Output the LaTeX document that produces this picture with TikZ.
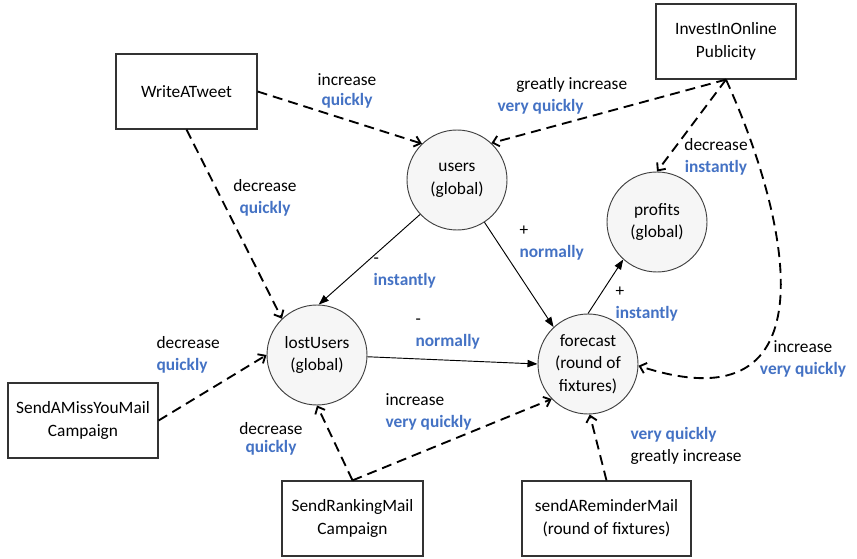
\documentclass[tikz,border=0pt]{standalone}
\usepackage{fontspec}
\setmainfont{Carlito}
\usepackage{tikz}
\usetikzlibrary{shapes,arrows.meta,positioning}
\definecolor{qblue}{RGB}{68,114,196}
\definecolor{vargray}{RGB}{246,246,246}
\newcommand{\Fast}[1]{\textcolor{qblue}{\bfseries #1}}

\begin{document}
\begin{tikzpicture}[x=0.75pt,y=-0.75pt,% pixel grid of the drawing, y going down
			every node/.style={
				align=center,	% so that "\\" breaks the line
				font=\fontsize{13}{17}\selectfont
			},
			box/.style={rectangle,draw=black!80,line width=0.9pt,minimum width=105.75pt,minimum height=56.25pt},
			var/.style={circle,draw=black!75,line width=0.7pt,fill=vargray,minimum size=75pt,inner sep=0pt},
			lbl/.style={inner sep=1pt},
			infl/.style={draw,line width=1.4pt,dash pattern=on 7.5pt off 4.5pt,-{Straight Barb[length=4.5pt,width=8pt]}},
			rel/.style={draw,line width=0.7pt,-{Triangle[length=7.5pt,width=5.5pt]}}
		]
		\useasboundingbox (0,0) rectangle (857,559);
		% variables
		\node[var](C1) at (457,180){users\\(global)};
		\node[var](C2) at (317,355){lostUsers\\(global)};
		\node[var](C3) at (588,364){forecast\\(round of\\fixtures)};
		\node[var](C4) at (657,222){profits\\(global)};
		% actions
		\node[box](R1) at (186.5,91.5){WriteATweet};
		\node[box,minimum width=105pt](R2) at (726,41.5){InvestInOnline\\Publicity};
		\node[box,minimum width=112.5pt](R3) at (83,420.5){SendAMissYouMail\\Campaign};
		\node[box](R4) at (352.5,518.5){SendRankingMail\\Campaign};
		\node[box,minimum width=126.75pt](R5) at (606.5,518.5){sendAReminderMail\\(round of fixtures)};
		% labels
		\node[lbl,font=\fontsize{13}{15}\selectfont](L1) at (347,91){increase\\\Fast{quickly}};
		\node[lbl](L2) at (265,198){decrease\\\Fast{quickly}};
		\node[lbl,align=left,anchor=west](L3) at (496,96){\hspace*{14pt}greatly increase\\\Fast{very quickly}};
		\node[lbl](L4) at (716,157){decrease\\\Fast{instantly}};
		\node[lbl](L5) at (803,359){increase\\\Fast{very quickly}};
		\node[lbl,align=left,anchor=west](L6) at (372,273){-\\\Fast{instantly}};
		\node[lbl,align=left,anchor=west](L7) at (518,243){+\\\Fast{normally}};
		\node[lbl,align=left,anchor=west](L8) at (414,334){-\\\Fast{normally}};
		\node[lbl,align=left,anchor=west](L9) at (614,304){+\\\Fast{instantly}};
		\node[lbl,align=left,anchor=west](L10) at (155,355){decrease\\\Fast{quickly}};
		\node[lbl,font=\fontsize{13}{13.5}\selectfont](L11) at (271,439){decrease\\\Fast{quickly}};
		\node[lbl,align=left,anchor=west](L12) at (384,412){increase\\\Fast{very quickly}};
		\node[lbl,align=left,anchor=west](L13) at (629,446){\Fast{very quickly}\\greatly increase};
		% influences of the actions
		\path
		(R1.east)edge [infl] (C1.134)
		(R1.south)edge [infl] (C2.134)
		(R2.south)edge [infl] (C1.47)
		(R2.south)edge [infl] (C4.north)
		(R3.east)edge [infl] (C2.west)
		(R4.north)edge [infl] (C2.south)
		(R4.north)edge [infl] (C3.224)
		(R5.north)edge [infl] (C3.-88)
		;
		\draw[infl] (R2.south) .. controls (790,220) and (835,430) .. (C3.-2);
		% relations between the variables
		\path
		(C1.223)edge [rel] (C2.88)
		(C1.-57)edge [rel] (C3.133)
		(C2.-2)edge [rel] (C3.west)
		(C3.north)edge [rel] (C4.228)
		;
	\end{tikzpicture}
\end{document}
